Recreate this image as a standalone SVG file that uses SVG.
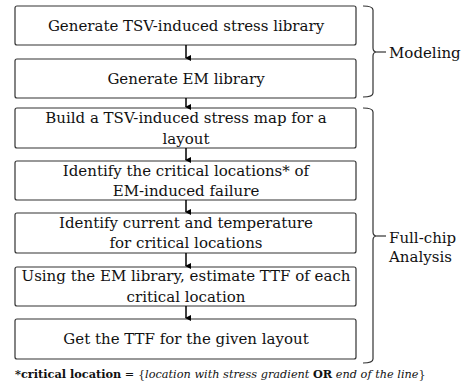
<svg xmlns="http://www.w3.org/2000/svg" width="465" height="385" viewBox="0 0 465 385">
<defs>
<marker id="ah" markerWidth="6" markerHeight="6" refX="3" refY="5" orient="auto" markerUnits="userSpaceOnUse" viewBox="0 0 6 6">
<path d="M0,0 L6,0 L3,6 z" fill="#000"/>
</marker>
<style>
.box{fill:#fff;stroke:#333;stroke-width:1.2}
.t{fill:#111;text-anchor:middle}
.lbl{fill:#111}
.c{stroke:#000;stroke-width:1.5;fill:none}
.br{stroke:#333;stroke-width:1.2;fill:none}
</style>
</defs>
<g id="n1"><rect class="box" x="15" y="6" width="341" height="39" rx="2"/><text class="t" font-family="DejaVu Serif" font-size="15" x="186" y="31">Generate TSV-induced stress library</text></g>
<g id="n2"><rect class="box" x="15" y="59" width="341" height="39" rx="2"/><text class="t" font-family="DejaVu Serif" font-size="15" x="186" y="84">Generate EM library</text></g>
<g id="n3"><rect class="box" x="15" y="108" width="341" height="40" rx="2"/><text class="t" font-family="DejaVu Serif" font-size="15" x="186" y="123">Build a TSV-induced stress map for a</text><text class="t" font-family="DejaVu Serif" font-size="15" x="186" y="144">layout</text></g>
<g id="n4"><rect class="box" x="15" y="161" width="341" height="39" rx="2"/><text class="t" font-family="DejaVu Serif" font-size="15" x="186" y="176">Identify the critical locations* of</text><text class="t" font-family="DejaVu Serif" font-size="15" x="186" y="196">EM-induced failure</text></g>
<g id="n5"><rect class="box" x="15" y="213" width="341" height="40" rx="2"/><text class="t" font-family="DejaVu Serif" font-size="15" x="186" y="228">Identify current and temperature</text><text class="t" font-family="DejaVu Serif" font-size="15" x="186" y="248">for critical locations</text></g>
<g id="n6"><rect class="box" x="15" y="267" width="341" height="39" rx="2"/><text class="t" font-family="DejaVu Serif" font-size="15" x="186" y="281">Using the EM library, estimate TTF of each</text><text class="t" font-family="DejaVu Serif" font-size="15" x="186" y="302">critical location</text></g>
<g id="n7"><rect class="box" x="15" y="319" width="341" height="40" rx="2"/><text class="t" font-family="DejaVu Serif" font-size="15" x="186" y="344">Get the TTF for the given layout</text></g>
<g id="connectors">
<line class="c" x1="186" y1="45" x2="186" y2="58" marker-end="url(#ah)"/>
<line class="c" x1="186" y1="98" x2="186" y2="107" marker-end="url(#ah)"/>
<line class="c" x1="186" y1="148" x2="186" y2="160" marker-end="url(#ah)"/>
<line class="c" x1="186" y1="200" x2="186" y2="212" marker-end="url(#ah)"/>
<line class="c" x1="186" y1="253" x2="186" y2="266" marker-end="url(#ah)"/>
<line class="c" x1="186" y1="306" x2="186" y2="318" marker-end="url(#ah)"/>
</g>
<g id="modeling">
<path class="br" d="M363,6 Q373,6 373,10 L373,48 Q373,52 377,52 Q373,52 373,56 L373,93 Q373,97 363,97"/>
<line class="br" x1="377" y1="52" x2="386" y2="52"/>
<text class="lbl" font-family="DejaVu Serif" font-size="15" x="389" y="58">Modeling</text>
</g>
<g id="fullchip">
<path class="br" d="M363,108 Q373,108 373,112 L373,232 Q373,236 377,236 Q373,236 373,240 L373,359 Q373,363 363,363"/>
<line class="br" x1="377" y1="236" x2="386" y2="236"/>
<text class="lbl" font-family="DejaVu Serif" font-size="15" x="389" y="243">Full-chip</text>
<text class="lbl" font-family="DejaVu Serif" font-size="15" x="389" y="262">Analysis</text>
</g>
<g id="footnote">
<text class="lbl" font-family="DejaVu Serif" font-size="11.3" x="15" y="378"><tspan font-weight="bold">*critical location</tspan> = {<tspan font-style="italic">location with stress gradient </tspan><tspan font-weight="bold">OR</tspan><tspan font-style="italic"> end of the line</tspan>}</text>
</g>
</svg>
